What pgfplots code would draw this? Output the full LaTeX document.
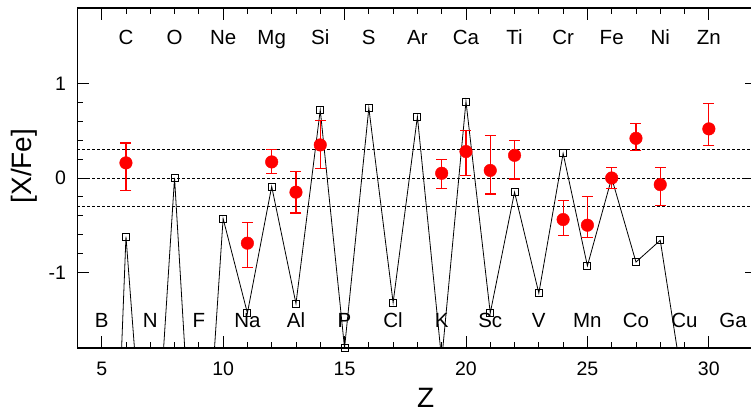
\documentclass[border=0pt]{standalone}
\usepackage{pgfplots}
\pgfplotsset{compat=1.18}
\usepackage{pgfplotstable}
\usepackage{fontspec}
\setmainfont{Liberation Sans}

\pgfplotstableread{
Z y
5 -7.2
6 -0.62
7 -4.0
8 0.0
9 -4.3
10 -0.43
11 -1.43
12 -0.09
13 -1.33
14 0.72
15 -1.80
16 0.74
17 -1.32
18 0.65
19 -1.93
20 0.81
21 -1.43
22 -0.15
23 -1.22
24 0.26
25 -0.93
26 0.00
27 -0.89
28 -0.66
29 -2.31
}\model

\pgfplotstableread{
Z y ep em
6 0.16 0.21 0.29
11 -0.69 0.22 0.26
12 0.17 0.13 0.12
13 -0.15 0.22 0.22
14 0.35 0.26 0.25
19 0.05 0.15 0.16
20 0.28 0.22 0.25
21 0.08 0.37 0.25
22 0.24 0.16 0.25
24 -0.44 0.20 0.17
25 -0.50 0.30 0.13
26 0.00 0.115 0.115
27 0.42 0.16 0.13
28 -0.07 0.18 0.22
30 0.52 0.27 0.18
}\obs

\begin{document}
\begin{tikzpicture}
\begin{axis}[
  at={(0,0)}, anchor=south west,
  width=680pt, height=340pt, scale only axis,
  xmin=4, xmax=32, ymin=-1.8, ymax=1.8,
  xtick={5,10,15,20,25,30}, xticklabels={5,10,15,20,25,30},
  minor x tick num=4,
  ytick={-1,0,1}, yticklabels={-1,0,1},
  minor y tick num=4,
  tick align=inside,
  major tick length=12pt, minor tick length=6pt,
  every tick/.style={black, line width=0.9pt},
  axis line style={black, line width=1.3pt},
  ticklabel style={font=\fontsize{19.5}{23}\selectfont},
  yticklabel style={xshift=-8pt},
  xticklabel style={yshift=-10.5pt},
  xlabel={Z}, ylabel={[X/Fe]},
  label style={font=\fontsize{28}{32}\selectfont},
  xlabel style={at={(axis description cs:0.512,-0.147)}, anchor=center},
  ylabel style={at={(axis description cs:-0.0785,0.535)}, anchor=center, rotate=0},
]
\addplot[black, line width=0.8pt, dash pattern=on 2.7pt off 2.3pt] coordinates {(4,0.3) (32,0.3)};
\addplot[black, line width=0.8pt, dash pattern=on 2.7pt off 2.3pt] coordinates {(4,0) (32,0)};
\addplot[black, line width=0.8pt, dash pattern=on 2.7pt off 2.3pt] coordinates {(4,-0.3) (32,-0.3)};

\addplot[black, line width=0.8pt, no marks] table[x=Z, y=y] {\model};
\addplot[black, only marks, mark=square, mark size=3.5pt, mark options={line width=0.9pt, fill=none},
  restrict y to domain=-1.85:1.8] table[x=Z, y=y] {\model};

\addplot[red, only marks, mark=*, mark size=6.3pt,
  error bars/.cd, y dir=both, y explicit,
  error bar style={red, line width=1.2pt},
  error mark options={red, line width=1.2pt, mark size=5.5pt, rotate=90}]
  table[x=Z, y=y, y error plus=ep, y error minus=em] {\obs};

\tikzset{el/.style={anchor=base, font=\fontsize{20.5}{24}\selectfont}}
\node[el] at (axis cs:6,1.417) {C};
\node[el] at (axis cs:8,1.417) {O};
\node[el] at (axis cs:10,1.417) {Ne};
\node[el] at (axis cs:12,1.417) {Mg};
\node[el] at (axis cs:14,1.417) {Si};
\node[el] at (axis cs:16,1.417) {S};
\node[el] at (axis cs:18,1.417) {Ar};
\node[el] at (axis cs:20,1.417) {Ca};
\node[el] at (axis cs:22,1.417) {Ti};
\node[el] at (axis cs:24,1.417) {Cr};
\node[el] at (axis cs:26,1.417) {Fe};
\node[el] at (axis cs:28,1.417) {Ni};
\node[el] at (axis cs:30,1.417) {Zn};
\node[el] at (axis cs:5,-1.585) {B};
\node[el] at (axis cs:7,-1.585) {N};
\node[el] at (axis cs:9,-1.585) {F};
\node[el] at (axis cs:11,-1.585) {Na};
\node[el] at (axis cs:13,-1.585) {Al};
\node[el] at (axis cs:15,-1.585) {P};
\node[el] at (axis cs:17,-1.585) {Cl};
\node[el] at (axis cs:19,-1.585) {K};
\node[el] at (axis cs:21,-1.585) {Sc};
\node[el] at (axis cs:23,-1.585) {V};
\node[el] at (axis cs:25,-1.585) {Mn};
\node[el] at (axis cs:27,-1.585) {Co};
\node[el] at (axis cs:29,-1.585) {Cu};
\node[el] at (axis cs:31,-1.585) {Ga};
\end{axis}
\pgfresetboundingbox
\path[use as bounding box] (-77.4pt,-64pt) rectangle (673.6pt,348pt);
\end{tikzpicture}
\end{document}
